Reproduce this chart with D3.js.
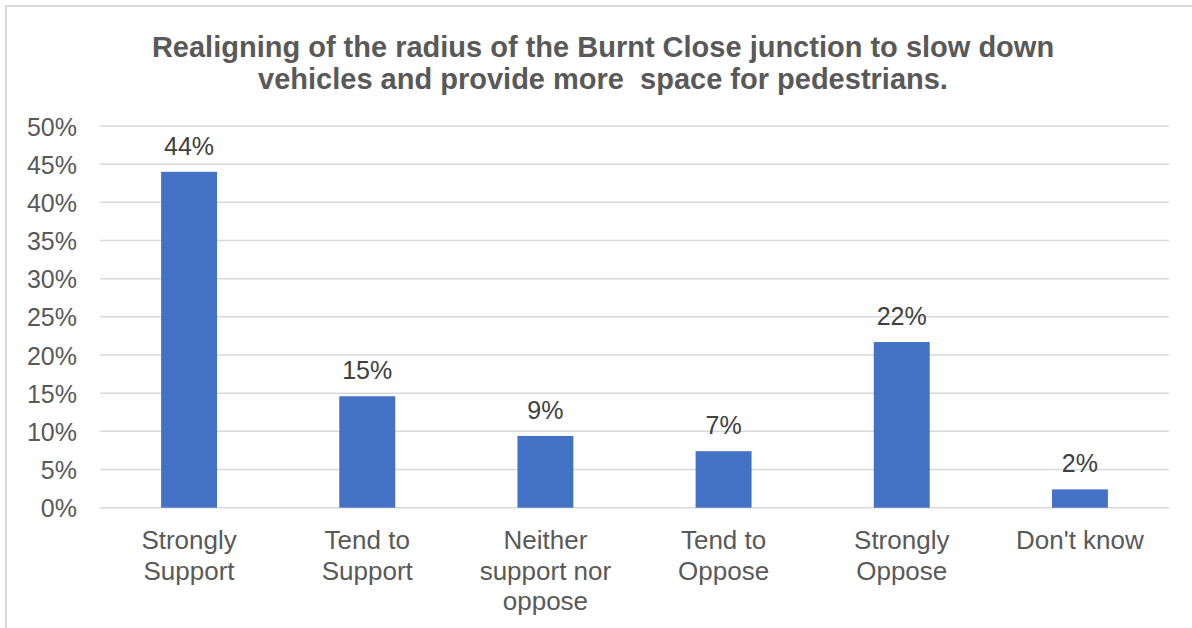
<!DOCTYPE html>
<html>
<head>
<meta charset="utf-8">
<script src="https://cdn.jsdelivr.net/npm/d3@7/dist/d3.min.js"></script>
<style>
  html, body { margin: 0; padding: 0; background: #fff; }
  svg { display: block; font-family: Arial, "Liberation Sans", sans-serif; }
</style>
</head>
<body>
<svg id="chart" width="1192" height="628"></svg>
<script>
const titleLines = ["Realigning of the radius of the Burnt Close junction to slow down", "vehicles and provide more  space for pedestrians."];
const categories = ["Strongly Support", "Tend to Support", "Neither support nor oppose", "Tend to Oppose", "Strongly Oppose", "Don't know"];
const categoryLines = [["Strongly", "Support"], ["Tend to", "Support"], ["Neither", "support nor", "oppose"], ["Tend to", "Oppose"], ["Strongly", "Oppose"], ["Don't know"]];
const values = [0.440, 0.146, 0.094, 0.074, 0.217, 0.024];
const valueLabels = ["44%", "15%", "9%", "7%", "22%", "2%"];
const yTicks = [0, 0.05, 0.10, 0.15, 0.20, 0.25, 0.30, 0.35, 0.40, 0.45, 0.50];

const svg = d3.select("#chart");
const W = 1192, H = 628;
const plot = { left: 100, right: 1169, top: 126, bottom: 507.7 };

// frame
svg.append("path")
  .attr("d", `M6,${H} L6,6 L${W},6`)
  .attr("fill", "none").attr("stroke", "#d9d9d9").attr("stroke-width", 2);

// title
const title = svg.append("text")
  .attr("x", 603).attr("y", 57)
  .attr("text-anchor", "middle")
  .attr("font-size", 29).attr("font-weight", "bold")
  .attr("fill", "#595959")
  .style("white-space", "pre");
titleLines.forEach((t, i) => {
  title.append("tspan").attr("x", 603).attr("dy", i === 0 ? 0 : 32).text(t);
});

const x = d3.scaleBand().domain(categories).range([plot.left, plot.right])
  .paddingInner(0.686).paddingOuter(0.343);
const y = d3.scaleLinear().domain([0, 0.5]).range([plot.bottom, plot.top]);

// gridlines
svg.append("g").selectAll("line").data(yTicks).join("line")
  .attr("x1", plot.left).attr("x2", plot.right)
  .attr("y1", d => y(d)).attr("y2", d => y(d))
  .attr("stroke", "#d9d9d9").attr("stroke-width", 1.5);

// y axis labels
const yAxis = d3.axisLeft(y).tickValues(yTicks).tickFormat(d3.format(".0%")).tickSize(0).tickPadding(0);
const ya = svg.append("g").attr("transform", "translate(77,0)").call(yAxis);
ya.select(".domain").remove();
ya.selectAll("text").attr("font-size", 25).attr("fill", "#595959")
  .attr("font-family", "Arial, 'Liberation Sans', sans-serif").attr("dy", "0.36em");

// bars
svg.append("g").selectAll("rect").data(values).join("rect")
  .attr("x", (d, i) => x(categories[i]))
  .attr("width", x.bandwidth())
  .attr("y", d => y(d))
  .attr("height", d => y(0) - y(d))
  .attr("fill", "#4472C4");

// value labels
svg.append("g").selectAll("text").data(values).join("text")
  .attr("x", (d, i) => x(categories[i]) + x.bandwidth() / 2)
  .attr("y", d => y(d) - 17)
  .attr("text-anchor", "middle")
  .attr("font-size", 25).attr("fill", "#404040")
  .text((d, i) => valueLabels[i]);

// category labels
const cg = svg.append("g").selectAll("text").data(categories).join("text")
  .attr("x", d => x(d) + x.bandwidth() / 2)
  .attr("y", 549)
  .attr("text-anchor", "middle")
  .attr("font-size", 26).attr("fill", "#595959");
cg.each(function(d, i) {
  const t = d3.select(this);
  categoryLines[i].forEach((line, j) => {
    t.append("tspan").attr("x", x(d) + x.bandwidth() / 2).attr("dy", j === 0 ? 0 : 30.5).text(line);
  });
});
</script>
</body>
</html>
